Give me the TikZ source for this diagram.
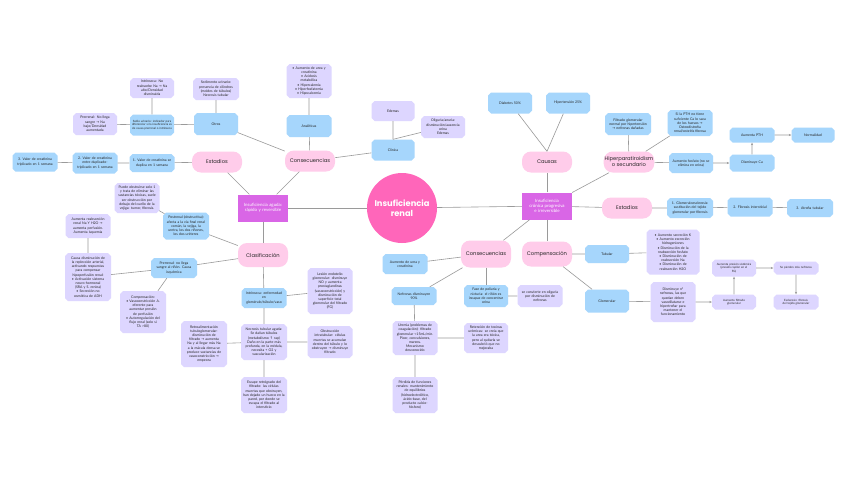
\documentclass[tikz,border=0pt]{standalone}
\usepackage{fontspec}
\setmainfont{Lato}
\newfontfamily\pop{Poppins}
\newfontfamily\djv{DejaVu Sans}
\usetikzlibrary{shapes.misc,arrows.meta}
\definecolor{blueC}{HTML}{A6D6FC}
\definecolor{purC}{HTML}{DDD6FF}
\definecolor{pinkC}{HTML}{FFCCEA}
\definecolor{magC}{HTML}{D966E6}
\definecolor{hotC}{HTML}{FF66BA}
\definecolor{lnC}{HTML}{9A9A9A}
\newcommand\rarr{{\djv→}}
\newcommand\uarr{{\djv↑}}
\newcommand\fsA{\fontsize{3.5}{4.2}\selectfont}
\newcommand\fsB{\fontsize{2.9}{3.5}\selectfont}
\newcommand\bul{\textbullet\ }
\tikzset{
 bx/.style 2 args={chamfered rectangle, chamfered rectangle xsep=1.5pt, chamfered rectangle ysep=1.5pt,
   text width=#1, minimum height=#2, inner xsep=0pt, inner ysep=0.5pt, align=center, font=\fsA, text=black!85},
 bl/.style 2 args={bx={#1}{#2}, fill=blueC},
 pu/.style 2 args={bx={#1}{#2}, fill=purC},
 pk/.style={rectangle, rounded corners=9pt, minimum width=50pt, minimum height=21pt, fill=pinkC,
   font=\pop\fontsize{5.2}{6}\selectfont, align=center, inner sep=1pt, text=black!85},
 mg/.style={rectangle, fill=magC, minimum width=50pt, minimum height=27pt, text width=48pt, align=center,
   inner sep=1pt, font=\fontsize{4.4}{5.3}\selectfont, text=white},
 ln/.style={draw=lnC, line width=0.6pt},
 ar/.style={ln, -{Stealth[length=2.5pt,width=2.2pt]}},
}
\begin{document}
\begin{tikzpicture}[x=1pt,y=-1pt]
\useasboundingbox[fill=white] (0,0) rectangle (848,477);

% ---------- centre ----------
\node[circle, fill=hotC, minimum size=70pt, inner sep=0pt, align=center, text=white,
  font=\pop\bfseries\fontsize{8.3}{10}\selectfont] (main) at (402,208) {Insuficiencia\\renal};
\node[mg] (aguda) at (263,208) {Insuficiencia aguda:\\rápido y reversible};
\node[mg] (cron) at (547,206) {Insuficiencia\\crónica progresiva\\e irreversible};

% ---------- left: consecuencias ----------
\node[pk] (consL) at (310,161) {Consecuencias};
\node[pk] (estL) at (217,162) {Estadios};
\node[bl={41pt}{22pt}] (otros) at (216,124) {Otros};
\node[bl={41pt}{21pt}, font=\fsB] (sodio) at (152,125) {Sodio urinario: indicador para diferenciar si la insuficiencia es de causa prerrenal o intrínseca};
\node[pu={41pt}{20pt}] (intr1) at (152,88) {Intrínseca: No\\reabsorbe Na \rarr{} Na\\alto/Densidad\\disminuida};
\node[pu={41pt}{22pt}] (prer1) at (95,124) {Prerrenal: No llega\\sangre \rarr{} Na\\bajo/Densidad\\aumentada};
\node[pu={43pt}{22pt}] (sedim) at (216,89) {Sedimento urinario:\\presencia de cilindros\\(moldes de túbulos)\\Necrosis tubular};
\node[bl={42pt}{22pt}] (anal) at (309,126) {Analíticas};
\node[pu={42pt}{34pt}] (anlist) at (309,81) {\bul Aumento de urea y\\creatinina\\\bul Acidosis\\metabólica\\\bul Hipercalemia\\\bul Hiperfosfatemia\\\bul Hipocalcemia};
\node[bl={40pt}{21pt}] (clin) at (393,150) {Clínica};
\node[pu={40pt}{20pt}] (edem) at (393,111) {Edemas};
\node[pu={41pt}{22pt}] (olig) at (443,127) {Oliguria/anuria:\\disminución/ausencia\\orina\\Edemas};
\node[bl={42pt}{18pt}] (e1) at (152,163) {1. Valor de creatinina se\\duplica en 1 semana};
\node[bl={42pt}{21pt}] (e2) at (95,163) {2. Valor de creatinina\\entre duplicado-\\triplicado en 1 semana};
\node[bl={42pt}{19pt}] (e3) at (35,162) {3. Valor de creatinina\\triplicado en 1 semana};

% ---------- left: clasificacion ----------
\node[pk, minimum height=24pt] (clas) at (263,255) {Clasificación};
\node[bl={43pt}{27pt}] (postr) at (186,226) {Postrenal (obstructiva):\\afecta a la vía final renal\\común, la vejiga, la\\uretra, los dos riñones,\\los dos uréteres};
\node[pu={42pt}{30pt}] (obst) at (137,198) {Puede obstruirse solo 1\\y trata de eliminar las\\sustancias tóxicas, suele\\ser obstrucción por\\debajo del cuello de la\\vejiga: tumor, fibrosis.};
\node[bl={43pt}{20pt}] (prer2) at (174,268) {Prerrenal: no llega\\sangre al riñón. Causa\\isquémica};
\node[pu={43pt}{48pt}] (causa) at (88,277) {Causa disminución de\\la replección arterial,\\activando respuestas\\para compensar\\hipoperfusión renal:\\\bul Activación sistema\\neuro-hormonal\\(SRA y S. renina)\\\bul Secreción no\\osmótica de ADH};
\node[pu={42pt}{24pt}] (aumreab) at (88,226) {Aumenta reabsorción\\renal Na Y H2O \rarr\\aumenta perfusión.\\Aumenta isquemia};
\node[pu={43pt}{42pt}] (comp1) at (143,312) {Compensación:\\\bul Vasoconstricción A.\\eferente para\\aumentar presión\\de perfusión\\\bul Autorregulación del\\flujo renal (solo si\\TA >80)};
\node[bl={42pt}{20pt}] (intr2) at (264,298) {Intrínseca: enfermedad\\en\\glomérulo/túbulo/vaso};
\node[pu={42pt}{46pt}] (lesion) at (330,291) {Lesión endotelio\\glomerular: disminuye\\NO y aumenta\\prostaglandinas\\(vasoconstricción) y\\disminución de\\superficie total\\glomerular del filtrado\\(FG)};
\node[pu={43pt}{36pt}] (necro) at (264,342) {Necrosis tubular aguda:\\Se dañan túbulos\\(metabolismo \uarr{} rap)\\Daño en la parte más\\profunda, en la médula,\\necesita + O2 y\\vascularización};
\node[pu={42pt}{32pt}] (obstint) at (330,342) {Obstrucción\\intratubular: células\\muertas se acumulan\\dentro del túbulo y lo\\obstruyen \rarr{} disminuye\\filtrado};
\node[pu={43pt}{46pt}] (retro) at (204,344) {Retroalimentación\\tubuloglomerular:\\disminución de\\filtrado \rarr{} aumenta\\Na y al llegar más Na\\a la mácula densa se\\produce sustancias de\\vasoconstricción \rarr\\empeora};
\node[pu={43pt}{36pt}] (escape) at (264,395) {Escape retrógrado del\\filtrado: las células\\muertas que obstruyen,\\han dejado un hueco en la\\pared, por donde se\\escapa el filtrado al\\intersticio};

% ---------- right: causas ----------
\node[pk] (causas) at (547,162) {Causas};
\node[bl={41pt}{21pt}] (diab) at (510,103) {Diabetes 50\%};
\node[bl={41pt}{21pt}] (hta) at (568,103) {Hipertensión 25\%};
\node[pk] (hiper) at (629,162) {Hiperparatiroidism\\o secundario};
\node[bl={43pt}{22pt}] (filt) at (628,124) {Filtrado glomerular\\normal por hipertensión\\\rarr{} nefronas dañadas};
\node[bl={42pt}{26pt}] (pth) at (690,123) {Si la PTH no tiene\\suficiente Ca lo saca\\de los huesos \rarr\\Osteodistrofia\\renal/osteítis fibrosa};
\node[bl={41pt}{20pt}] (fosf) at (691,163) {Aumento fosfato (no se\\elimina en orina)};
\node[bl={42pt}{17pt}] (disca) at (752,163) {Disminuye Ca};
\node[bl={42pt}{15pt}] (aumpth) at (752,135) {Aumenta PTH};
\node[bl={40pt}{15pt}] (normal) at (813,135) {Normalidad};

% ---------- right: estadios ----------
\node[pk] (estR) at (627,208) {Estadios};
\node[bl={43pt}{20pt}] (g1) at (690,208) {1. Glomeruloesclerosis:\\sustitución del tejido\\glomerular por fibrosis};
\node[bl={42pt}{19pt}] (g2) at (750,207) {2. Fibrosis intersticial};
\node[bl={43pt}{18pt}] (g3) at (810,208) {3. Atrofia tubular};

% ---------- right: compensacion ----------
\node[pk, minimum height=25pt] (compR) at (547,254) {Compensación};
\node[bl={41pt}{18pt}] (tub) at (607,254) {Tubular};
\node[pu={50pt}{45pt}] (tublist) at (673,252) {\bul Aumento secreción K\\\bul Aumento excreción\\hidrogeniones\\\bul Disminución de la\\reabsorción fosfato\\\bul Disminución de\\reabsorción Na\\\bul Disminución de\\reabsorción H2O};
\node[bl={41pt}{23pt}] (glom) at (607,301) {Glomerular};
\node[pu={42pt}{40pt}] (nefr) at (673,302) {Disminuye nº\\nefronas, las que\\quedan deben\\vasodilatarse e\\hipertrofiar para\\mantener el\\funcionamiento};
\node[pu={41pt}{15pt}, font=\fsB] (aumfilt) at (734,302) {Aumento filtrado\\glomerular};
\node[pu={41pt}{17pt}, font=\fsB] (aumpres) at (734,268) {Aumenta presión sistémica\\(presión capilar en el\\FG)};
\node[pu={42pt}{13pt}, font=\fsB] (sepierd) at (796,268) {Se pierden más nefronas};
\node[pu={42pt}{15pt}, font=\fsB] (escl) at (796,302) {Esclerosis: fibrosis\\del tejido glomerular};

% ---------- right: consecuencias ----------
\node[pk, minimum height=27pt] (consR) at (486,254) {Consecuencias};
\node[bl={42pt}{20pt}] (urea) at (405,264) {Aumento de urea y\\creatinina};
\node[bl={42pt}{18pt}] (nef90) at (414,296) {Nefronas disminuyen\\90\%};
\node[pu={42pt}{34pt}] (uremia) at (415,338) {Uremia (problemas de\\coagulación): filtrado\\glomerular <15mL/min.\\Picor, convulsiones,\\mareos.\\Mecanismo\\desconocido};
\node[pu={41pt}{30pt}] (reten) at (486,338) {Retención de toxinas\\urémicas: se creía que\\la urea era tóxica,\\pero al quitarla se\\descubrió que no\\mejoraba};
\node[pu={42pt}{36pt}] (perd) at (415,395) {Pérdida de funciones\\renales: mantenimiento\\de equilibrios\\(hidroelectrolítico,\\ácido-base, del\\producto calcio-\\fósforo)};
\node[bl={41pt}{22pt}] (fase) at (486,296) {Fase de poliuria y\\nicturia: el riñón es\\incapaz de concentrar\\orina};
\node[pu={42pt}{22pt}] (olig2) at (540,296) {se convierte en oliguria\\por disminución de\\nefronas};

% ---------- connectors ----------
\draw[ln] (main) -- (aguda);
\draw[ln] (main) -- (cron);
\draw[ln] (aguda) -- (consL);
\draw[ln] (aguda) -- (estL);
\draw[ln] (aguda) -- (clas);
\draw[ln] (consL) -- (otros);
\draw[ln] (consL) -- (anal);
\draw[ln] (consL) -- (clin);
\draw[ln] (otros) -- (sedim);
\draw[ln] (otros) -- (sodio);
\draw[ln] (sodio) -- (intr1);
\draw[ln] (sodio) -- (prer1);
\draw[ln] (anal) -- (anlist);
\draw[ln] (clin) -- (edem);
\draw[ln] (clin.north) -- (olig);
\draw[ln] (estL) -- (e1);
\draw[ln] (e1) -- (e2);
\draw[ln] (e2) -- (e3);
\draw[ln] (clas) -- (postr);
\draw[ln] (clas) -- (prer2);
\draw[ln] (clas) -- (intr2);
\draw[ln] (postr) -- (obst);
\draw[ln] (prer2) -- (causa);
\draw[ln] (prer2) -- (comp1);
\draw[ln] (causa) -- (aumreab);
\draw[ln] (intr2) -- (lesion);
\draw[ln] (intr2) -- (necro);
\draw[ln] (necro) -- (obstint);
\draw[ln] (necro) -- (retro);
\draw[ln] (necro) -- (escape);
\draw[ln] (cron) -- (causas);
\draw[ln] (cron) -- (hiper);
\draw[ln] (cron) -- (estR);
\draw[ln] (cron) -- (compR);
\draw[ln] (cron) -- (consR);
\draw[ln] (causas.north) -- (diab);
\draw[ln] (causas.north) -- (hta);
\draw[ln] (hiper) -- (filt);
\draw[ln] (hiper) -- (pth);
\draw[ln] (hiper) -- (fosf);
\draw[ar] (fosf) -- (disca);
\draw[ar] (disca) -- (aumpth);
\draw[ar] (aumpth) -- (normal);
\draw[ln] (estR) -- (g1);
\draw[ln] (g1) -- (g2);
\draw[ln] (g2) -- (g3);
\draw[ln] (compR) -- (tub);
\draw[ln] (compR) -- (glom);
\draw[ln] (tub) -- (tublist);
\draw[ln] (glom) -- (nefr);
\draw[ar] (nefr) -- (aumfilt);
\draw[ar] (aumfilt) -- (aumpres);
\draw[ar] (aumpres) -- (sepierd);
\draw[ar] (sepierd) -- (escl);
\draw[ln] (consR) -- (urea);
\draw[ln] (consR) -- (nef90);
\draw[ln] (consR) -- (fase);
\draw[ln] (nef90) -- (uremia);
\draw[ln] (uremia) -- (reten);
\draw[ln] (uremia) -- (perd);
\draw[ln] (fase) -- (olig2);
\end{tikzpicture}
\end{document}
